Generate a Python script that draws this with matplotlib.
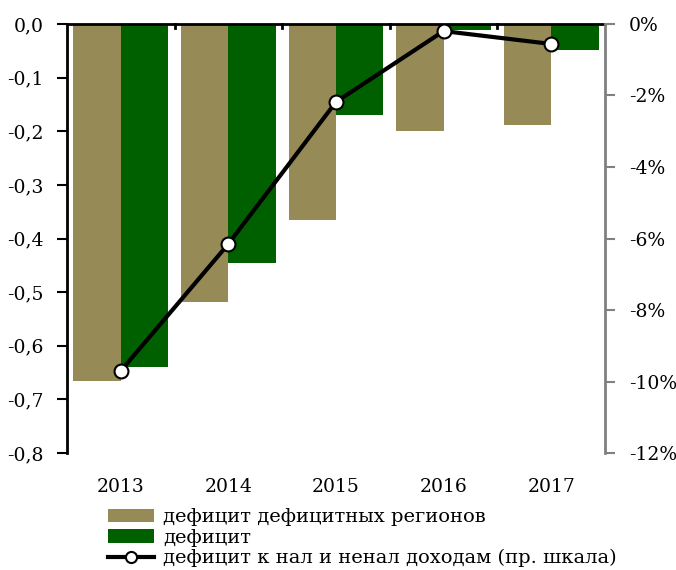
import numpy as np
import matplotlib.pyplot as plt
from matplotlib.ticker import FuncFormatter

plt.rcParams['font.family'] = ['DejaVu Serif']

years = ['2013', '2014', '2015', '2016', '2017']
deficit_regions = [-0.666, -0.519, -0.366, -0.200, -0.188]
deficit = [-0.640, -0.446, -0.170, -0.011, -0.049]
deficit_pct = [-9.7, -6.15, -2.18, -0.2, -0.56]

col_khaki = '#968b56'
col_green = '#006000'

fig = plt.figure(figsize=(6.76, 5.70), dpi=100)
ax = fig.add_axes([0.0991, 0.205, 0.7959, 0.753])

xx = np.arange(len(years))
ww = 0.44
ax.bar(xx - ww/2, deficit_regions, ww, color=col_khaki, label='дефицит дефицитных регионов')
ax.bar(xx + ww/2, deficit, ww, color=col_green, label='дефицит')
ax.set_xlim(-0.5, len(years) - 0.5)
ax.set_ylim(-0.8, 0)
ax.set_yticks(np.arange(-0.8, 0.01, 0.1))
ax.yaxis.set_major_formatter(FuncFormatter(lambda v, p: ('%.1f' % v).replace('.', ',').replace('-0,0', '0,0')))
ax.set_xticks(xx)
ax.set_xticklabels(years)
ax.tick_params(axis='x', length=0, pad=18, labelsize=13.5)
ax.tick_params(axis='y', length=7, width=1.5, labelsize=13.5, direction='out', pad=10)
for s in ['bottom', 'right']:
    ax.spines[s].set_visible(False)
ax.spines['left'].set_linewidth(2)
ax.spines['top'].set_linewidth(2)

# boundary ticks on top spine
for b in np.arange(0.5, len(years) - 0.5, 1.0):
    ax.plot([b, b], [0, -0.008], color='black', lw=2, clip_on=False)

ax2 = ax.twinx()
ax2.plot(xx, deficit_pct, color='black', lw=3, marker='o', markersize=10,
         markerfacecolor='white', markeredgecolor='black', markeredgewidth=1.5,
         label='дефицит к нал и ненал доходам (пр. шкала)', zorder=5)
ax2.set_ylim(-12, 0)
ax2.set_yticks(np.arange(-12, 0.1, 2))
ax2.yaxis.set_major_formatter(FuncFormatter(lambda v, p: ('%d%%' % v)))
ax2.tick_params(axis='y', length=7, width=1.5, color='gray', labelsize=13.5, pad=10)
for s in ['bottom', 'left', 'top']:
    ax2.spines[s].set_visible(False)
ax2.spines['right'].set_color('gray')
ax2.spines['right'].set_linewidth(2)

h1, l1 = ax.get_legend_handles_labels()
h2, l2 = ax2.get_legend_handles_labels()
leg = fig.legend(h1 + h2, l1 + l2, loc='upper left', bbox_to_anchor=(0.145, 0.125),
                 bbox_transform=fig.transFigure, frameon=False, fontsize=14,
                 labelspacing=0.12, handlelength=2.4, handletextpad=0.45, borderpad=0,
                 markerscale=0.8)

fig.savefig('out.png', dpi=100)
